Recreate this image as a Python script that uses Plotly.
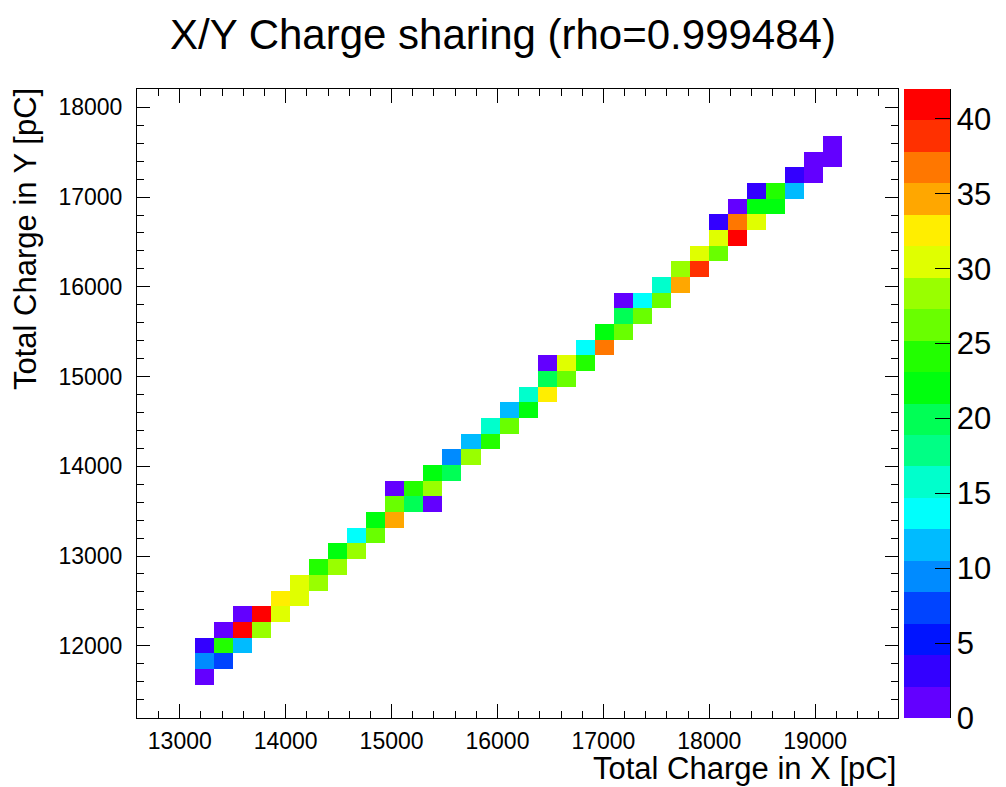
import colorsys
import plotly.graph_objects as go

# ---- histogram definition (TH2F, 40 x 40 bins) ----
X_MIN, NX, DX = 12606.0, 40, 179.65
Y_MIN, NY, DY = 11217.0, 40, 174.7

# axis ranges shown in the frame
X_RANGE = [12596.0, 19782.0]
Y_RANGE = [11195.0, 18204.0]

# filled bins: x-bin index, y-bin index, entries (one line per y bin)
x_bin = [3,
         3, 4,
         3, 4, 5,
         4, 5, 6,
         5, 6, 7,
         7, 8,
         8, 9,
         9, 10,
         10, 11,
         11, 12,
         12, 13,
         13, 14, 15,
         13, 14, 15,
         15, 16,
         16, 17,
         17, 18,
         18, 19,
         19, 20,
         20, 21,
         21, 22,
         21, 22, 23,
         23, 24,
         24, 25,
         25, 26,
         25, 26, 27,
         27, 28,
         28, 29,
         29, 30,
         30, 31,
         30, 31, 32,
         31, 32, 33,
         32, 33, 34,
         34, 35,
         35, 36,
         36]
y_bin = [2,
         3, 3,
         4, 4, 4,
         5, 5, 5,
         6, 6, 6,
         7, 7,
         8, 8,
         9, 9,
         10, 10,
         11, 11,
         12, 12,
         13, 13, 13,
         14, 14, 14,
         15, 15,
         16, 16,
         17, 17,
         18, 18,
         19, 19,
         20, 20,
         21, 21,
         22, 22, 22,
         23, 23,
         24, 24,
         25, 25,
         26, 26, 26,
         27, 27,
         28, 28,
         29, 29,
         30, 30,
         31, 31, 31,
         32, 32, 32,
         33, 33, 33,
         34, 34,
         35, 35,
         36]
counts = [1,
          10, 8,
          3, 24, 12,
          2, 42, 28,
          2, 41, 30,
          33, 31,
          30, 29,
          24, 28,
          22, 28,
          14, 26,
          22, 35,
          26, 20, 1,
          1, 24, 28,
          22, 20,
          10, 28,
          12, 24,
          16, 26,
          12, 22,
          16, 33,
          20, 26,
          1, 30, 24,
          14, 37,
          22, 26,
          20, 26,
          2, 14, 26,
          16, 35,
          28, 39,
          30, 26,
          30, 41,
          3, 37, 30,
          1, 22, 22,
          3, 24, 12,
          3, 1,
          1, 2,
          1]

TITLE = "X/Y Charge sharing (rho=0.999484)"
X_TITLE = "Total Charge in X [pC]"
Y_TITLE = "Total Charge in Y [pC]"
Z_TICKS = [0, 5, 10, 15, 20, 25, 30, 35, 40]

# ---- bin centres and content grid ----
x_centres = [X_MIN + (i + 0.5) * DX for i in range(NX)]
y_centres = [Y_MIN + (j + 0.5) * DY for j in range(NY)]
z = [[None] * NX for _ in range(NY)]
for i, j, n in zip(x_bin, y_bin, counts):
    z[j][i] = n
z_max = max(counts)

# ---- ROOT "pretty" palette, 20 contour levels ----
N_COLORS, N_LEVELS = 50, 20
colorscale = []
for k in range(N_LEVELS):
    idx = int((k + 0.99) * N_COLORS / N_LEVELS)
    hue = 280.0 - (idx + 1) * (280.0 / N_COLORS)
    r, g, b = colorsys.hls_to_rgb(hue / 360.0, 0.5, 1.0)
    col = f"rgb({round(r * 255)},{round(g * 255)},{round(b * 255)})"
    colorscale.append([k / N_LEVELS, col])
    colorscale.append([(k + 1) / N_LEVELS, col])

FONT = "Liberation Sans, Arial, Helvetica, sans-serif"

# ---- page geometry (pixels) ----
W, H = 1006, 787
L, R, T, B = 137, 108, 89, 69
plot_w = W - L - R
bar_left = 904
bar_thick = 46

fig = go.Figure(
    go.Heatmap(
        x=x_centres,
        y=y_centres,
        z=z,
        zmin=0,
        zmax=z_max,
        colorscale=colorscale,
        hoverongaps=False,
        colorbar=dict(
            thickness=bar_thick,
            thicknessmode="pixels",
            len=H - T - B,
            lenmode="pixels",
            x=(bar_left - L) / plot_w,
            xanchor="left",
            xpad=0,
            y=0.5,
            yanchor="middle",
            ypad=0,
            outlinewidth=0,
            tickmode="array",
            tickvals=Z_TICKS,
            ticks="inside",
            ticklen=15,
            tickwidth=1,
            tickcolor="black",
            tickfont=dict(family=FONT, size=31, color="black"),
        ),
    )
)

axis_common = dict(
    showgrid=False,
    zeroline=False,
    showline=True,
    linecolor="black",
    linewidth=1,
    mirror="allticks",
    ticks="inside",
    tickwidth=1,
    tickcolor="black",
    tickformat="d",
    tickfont=dict(family=FONT, size=23, color="black"),
    dtick=1000,
    tick0=0,
)

fig.update_xaxes(
    **axis_common,
    range=X_RANGE,
    ticklen=14,
    ticklabelstandoff=2,
    minor=dict(ticks="inside", dtick=200, tick0=0, ticklen=7,
               tickcolor="black", tickwidth=1),
)
fig.update_yaxes(
    **axis_common,
    range=Y_RANGE,
    ticklen=13,
    ticklabelstandoff=9,
    minor=dict(ticks="inside", dtick=200, tick0=0, ticklen=7,
               tickcolor="black", tickwidth=1),
)

fig.update_layout(
    width=W,
    height=H,
    margin=dict(l=L, r=R, t=T, b=B, pad=0, autoexpand=False),
    paper_bgcolor="white",
    plot_bgcolor="white",
    font=dict(family=FONT, color="black"),
    title=dict(
        text=TITLE,
        x=0.5,
        xanchor="center",
        y=1 - 34 / H,
        yanchor="middle",
        font=dict(family=FONT, size=42, color="black"),
    ),
    annotations=[
        dict(
            text=X_TITLE,
            xref="paper", yref="paper",
            x=1, y=0,
            xanchor="right", yanchor="middle",
            yshift=-50,
            showarrow=False,
            font=dict(family=FONT, size=31, color="black"),
        ),
        dict(
            text=Y_TITLE,
            xref="paper", yref="paper",
            x=0, y=1,
            xanchor="center", yanchor="top",
            xshift=-(L - 25),
            yshift=3,
            textangle=-90,
            showarrow=False,
            font=dict(family=FONT, size=31, color="black"),
        ),
    ],
    shapes=[
        # axis line on the right edge of the palette
        dict(
            type="line", xref="paper", yref="paper",
            x0=(bar_left + bar_thick - L + 0.5) / plot_w,
            x1=(bar_left + bar_thick - L + 0.5) / plot_w,
            y0=0, y1=1,
            line=dict(color="black", width=1),
        )
    ],
)

fig.write_html("out.html")
